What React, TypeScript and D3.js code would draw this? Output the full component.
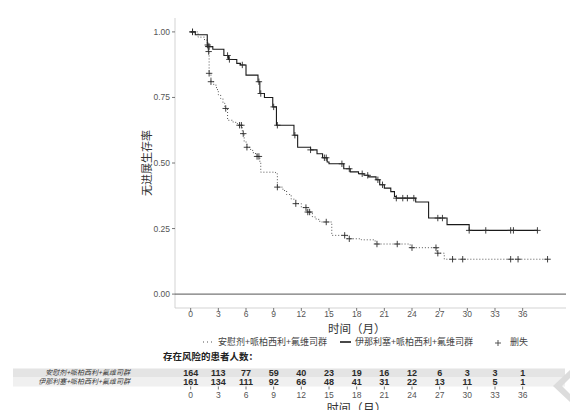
import * as d3 from "d3";

// ── Data ──────────────────────────────────────────────────────────────────────

const xTicks = [0, 3, 6, 9, 12, 15, 18, 21, 24, 27, 30, 33, 36];
const yTicks = [0, 0.25, 0.5, 0.75, 1];

const groupLabels = ["安慰剂+哌柏西利+氟维司群", "伊那利塞+哌柏西利+氟维司群"];

// placebo arm (dotted)
const pboTimes = [0, 0.8, 1.5, 1.8, 1.9, 2.0, 2.2, 2.5, 2.8, 3.0, 3.25, 3.5, 3.7, 4.0, 4.6, 5.0, 5.3, 5.6, 5.8, 6.1, 6.5, 6.8, 7.2, 7.5, 7.6, 9.2, 9.4, 10.0, 10.4, 10.9, 11.4, 12.0, 12.6, 13.2, 13.6, 14.0, 15.3, 17.0, 18.5, 20.0, 23.8, 26.7, 27.5];
const pboSurv = [1.0, 0.98, 0.969, 0.95, 0.925, 0.842, 0.81, 0.797, 0.78, 0.76, 0.746, 0.728, 0.708, 0.663, 0.655, 0.65, 0.644, 0.612, 0.58, 0.56, 0.548, 0.536, 0.525, 0.503, 0.465, 0.459, 0.408, 0.395, 0.38, 0.362, 0.345, 0.33, 0.313, 0.294, 0.285, 0.275, 0.224, 0.211, 0.207, 0.191, 0.177, 0.156, 0.133];
const pboEnd = 38.7;
const pboCensor = [0.2, 1.85, 1.95, 2.0, 2.2, 3.8, 5.3, 5.5, 5.7, 6.1, 7.2, 7.4, 9.4, 11.4, 12.5, 12.7, 12.9, 14.7, 16.7, 17.2, 20.2, 22.4, 24.0, 26.6, 26.8, 28.4, 29.5, 34.7, 35.5, 38.7];

// inavolisib arm (solid)
const inaTimes = [0, 0.5, 1.8, 2.4, 3.6, 4.1, 5.0, 5.4, 6.0, 7.3, 7.5, 8.0, 8.9, 9.3, 11.2, 11.6, 13.0, 13.7, 14.3, 14.8, 15.0, 16.6, 17.3, 18.2, 18.8, 19.3, 20.1, 20.5, 21.0, 21.7, 22.1, 22.3, 24.4, 25.8, 27.8, 30.2];
const inaSurv = [1.0, 0.989, 0.944, 0.934, 0.91, 0.895, 0.88, 0.874, 0.835, 0.81, 0.765, 0.75, 0.714, 0.644, 0.606, 0.56, 0.55, 0.535, 0.52, 0.504, 0.497, 0.478, 0.466, 0.459, 0.453, 0.447, 0.436, 0.417, 0.404, 0.391, 0.372, 0.366, 0.351, 0.29, 0.265, 0.243];
const inaEnd = 37.6;
const inaCensor = [0.2, 1.9, 2.0, 4.0, 4.2, 5.6, 7.4, 7.6, 9.0, 9.4, 11.3, 13.0, 14.5, 14.7, 16.4, 17.2, 18.6, 19.2, 20.3, 20.8, 22.3, 23.0, 23.5, 24.2, 26.8, 27.3, 30.2, 32.0, 34.7, 35.0, 37.6];

const pboAtRisk = [164, 113, 77, 59, 40, 23, 19, 16, 12, 6, 3, 3, 1];
const inaAtRisk = [161, 134, 111, 92, 66, 48, 41, 31, 22, 13, 11, 5, 1];

// ── Layout ────────────────────────────────────────────────────────────────────

const W = 570;
const H = 410;
const left = 175;
const right = 566;
const top = 18;
const bottom = 308;

const x = d3.scaleLinear().domain([-1.7, 40.7]).range([left, right]);
const y = d3.scaleLinear().domain([-0.053, 1.053]).range([bottom, top]);

const tickFont = "Liberation Sans, Arial, sans-serif";
const cjkFont = "'Noto Sans CJK SC', sans-serif";

function survAt(times: number[], surv: number[], t: number) {
  let s = surv[0];
  for (let i = 0; i < times.length; i++) if (times[i] <= t) s = surv[i];
  return s;
}

function stepPath(times: number[], surv: number[], end: number) {
  const pts: [number, number][] = times.map((t, i) => [t, surv[i]]);
  pts.push([end, surv[surv.length - 1]]);
  return (
    d3
      .line<[number, number]>()
      .x((d) => x(d[0]))
      .y((d) => y(d[1]))
      .curve(d3.curveStepAfter)(pts) ?? ""
  );
}

function crossPath(cx: number, cy: number, r = 3.2) {
  return `M${cx - r},${cy}H${cx + r}M${cx},${cy - r}V${cy + r}`;
}

function Censors({ times, surv, cens }: { times: number[]; surv: number[]; cens: number[] }) {
  return (
    <g stroke="#2b2b2b" strokeWidth={0.9} fill="none">
      {cens.map((t, i) => (
        <path key={i} d={crossPath(x(t), y(survAt(times, surv, t)))} />
      ))}
    </g>
  );
}

export default function App() {
  const rowY1 = 373;
  const rowY2 = 382;
  return (
    <svg
      width={W}
      height={H}
      style={{ position: "absolute", left: 0, top: 0, background: "#fff" }}
    >
      {/* y axis */}
      <line x1={left} x2={left} y1={top} y2={bottom} stroke="#c8c8c8" strokeWidth={0.8} />
      {yTicks.map((v) => (
        <g key={v} transform={`translate(0,${y(v)})`}>
          <line x1={left - 3} x2={left} stroke="#555" strokeWidth={0.8} />
          <text
            x={left - 5}
            dy="0.35em"
            textAnchor="end"
            fontSize={8.5}
            fill="#555"
            fontFamily={tickFont}
          >
            {v.toFixed(2)}
          </text>
        </g>
      ))}
      <text
        transform={`translate(151,${(top + bottom) / 2}) rotate(-90)`}
        textAnchor="middle"
        fontSize={11}
        fill="#333"
        fontFamily={cjkFont}
      >
        无进展生存率
      </text>

      {/* x axis */}
      <line x1={left} x2={right} y1={bottom} y2={bottom} stroke="#c8c8c8" strokeWidth={0.8} />
      {xTicks.map((v) => (
        <g key={v} transform={`translate(${x(v)},0)`}>
          <line y1={bottom} y2={bottom + 3} stroke="#555" strokeWidth={0.8} />
          <text
            y={bottom + 6}
            dy="0.35em"
            textAnchor="middle"
            fontSize={8.5}
            fill="#555"
            fontFamily={tickFont}
          >
            {v}
          </text>
        </g>
      ))}
      <text x={x(18)} y={332.5} textAnchor="middle" fontSize={11.5} fill="#333" fontFamily={cjkFont}>
        时间（月）
      </text>

      {/* reference line at 0 */}
      <line x1={left} x2={right} y1={y(0)} y2={y(0)} stroke="#555" strokeWidth={1} />

      {/* curves */}
      <path
        d={stepPath(pboTimes, pboSurv, pboEnd)}
        fill="none"
        stroke="#555"
        strokeWidth={1}
        strokeDasharray="1,2"
      />
      <path d={stepPath(inaTimes, inaSurv, inaEnd)} fill="none" stroke="#1a1a1a" strokeWidth={1.1} />
      <Censors times={pboTimes} surv={pboSurv} cens={pboCensor} />
      <Censors times={inaTimes} surv={inaSurv} cens={inaCensor} />

      {/* legend */}
      <g fontFamily={cjkFont} fontSize={9} fill="#444">
        <line x1={203} x2={214} y1={342} y2={342} stroke="#555" strokeWidth={1.2} strokeDasharray="1,3" />
        <text x={218} y={342} dy="0.35em">
          {groupLabels[0]}
        </text>
        <line x1={340} x2={351} y1={342} y2={342} stroke="#1a1a1a" strokeWidth={1.6} />
        <text x={355} y={342} dy="0.35em">
          {groupLabels[1]}
        </text>
        <path d={crossPath(498, 343, 3)} stroke="#444" strokeWidth={0.9} />
        <text x={510} y={342} dy="0.35em">
          删失
        </text>
      </g>

      {/* risk table */}
      <text x={163} y={357} dy="0.35em" fontSize={9.5} fontWeight={700} fill="#222" fontFamily={cjkFont}>
        存在风险的患者人数：
      </text>
      <rect x={13} y={368.5} width={552} height={9} fill="#e4e4e4" />
      <rect x={13} y={377.5} width={552} height={9} fill="#f0f0f0" />
      <g fontFamily={cjkFont} fontSize={7} fontStyle="italic" fill="#333" textAnchor="end">
        <text x={130} y={rowY1} dy="0.35em">
          {groupLabels[0]}
        </text>
        <text x={130} y={rowY2} dy="0.35em">
          {groupLabels[1]}
        </text>
      </g>
      <g fontFamily={tickFont} fontSize={9} fontWeight={700} fill="#2a2a2a" textAnchor="middle">
        {xTicks.map((t, i) => (
          <text key={`p${t}`} x={x(t)} y={rowY1} dy="0.35em">
            {pboAtRisk[i]}
          </text>
        ))}
        {xTicks.map((t, i) => (
          <text key={`i${t}`} x={x(t)} y={rowY2} dy="0.35em">
            {inaAtRisk[i]}
          </text>
        ))}
      </g>
      {xTicks.map((t) => (
        <g key={`t${t}`} transform={`translate(${x(t)},0)`}>
          <line y1={386.5} y2={389.5} stroke="#555" strokeWidth={0.8} />
          <text
            y={395}
            dy="0.35em"
            textAnchor="middle"
            fontSize={8.5}
            fill="#555"
            fontFamily={tickFont}
          >
            {t}
          </text>
        </g>
      ))}
      <text x={x(18)} y={413} textAnchor="middle" fontSize={12} fill="#333" fontFamily={cjkFont}>
        时间（月）
      </text>

      {/* faint watermark chevron */}
      <path d="M572,368 L553,386 L572,404 L572,396 L562,386 L572,376 Z" fill="#dcdcdc" />
    </svg>
  );
}
